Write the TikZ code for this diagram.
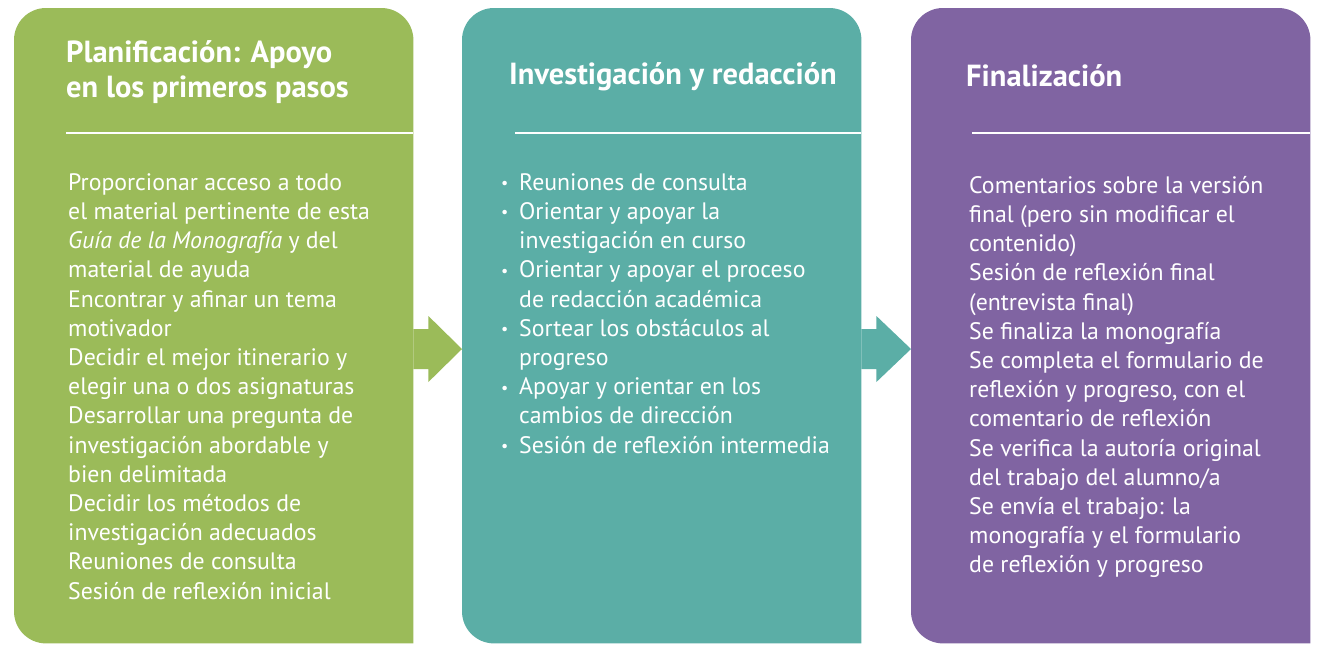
\documentclass[tikz,border=0pt]{standalone}
\usepackage{fontspec}
\setmainfont{PT Sans}
\usetikzlibrary{calc}
\definecolor{leaf}{HTML}{9BBB59}
\definecolor{lagoon}{HTML}{5BAEA6}
\definecolor{plum}{HTML}{8064A2}
\newcommand\itm{\makebox[19pt][l]{\hspace*{1pt}\raisebox{1.5pt}{\fontsize{16}{16}\selectfont\textbullet}}}
\newcommand\cnt{\makebox[19pt]{}}

\begin{document}
\begin{tikzpicture}[x=1pt,y=-1pt,
    panel/.style={minimum width=399pt,minimum height=635pt,inner sep=0pt,anchor=north west},
    title/.style={text=white,font=\fontsize{30.5}{35}\selectfont\bfseries,align=left,anchor=north west,inner sep=0pt},
    body/.style={text=white,font=\fontsize{23.8}{29.2}\selectfont,align=left,anchor=north west,inner sep=0pt},
    rule/.style={white,line width=2pt}]
  \useasboundingbox (0,0) rectangle (1329,662);
  % three stage panels
  \node[panel] (plan) at (14,8) {};
  \node[panel] (inv) at (462,8) {};
  \node[panel] (fin) at (911,8) {};
  \foreach \p/\c in {plan/leaf,inv/lagoon,fin/plum}{
    \fill[\c,rounded corners=32pt] (\p.south east) -- (\p.south west) -- (\p.north west)
      -- (\p.north east) -- (\p.south east);}
  % block arrows between panels
  \foreach \a/\b/\c in {plan/inv/leaf,inv/fin/lagoon}{
    \fill[\c] ($(\a.east |- 0,349)+(0,-20)$) -- ++(15,0) -- ++(0,-13) -- (\b.west |- 0,349)
      -- ($(\a.east |- 0,349)+(15,33)$) -- ++(0,-13) -- ($(\a.east |- 0,349)+(0,20)$) -- cycle;}
  % headings
  \node[title] (plan-t) at (66,37.5) {\strut Planificación: Apoyo\\en los primeros pasos};
  \node[title] (inv-t) at (509,59.5) {\strut Investigación y redacción};
  \node[title] (fin-t) at (966,61.5) {\strut Finalización};
  \draw[rule] (66,133) -- (plan.east |- 0,133);
  \draw[rule] (515,133) -- (inv.east |- 0,133);
  \draw[rule] (972,133) -- (fin.east |- 0,133);
  % lists
  \node[body] (plan-b) at (68,169.6) {\strut Proporcionar acceso a todo\\
    el material pertinente de esta\\
    \textit{Guía de la Monografía} y del\\
    material de ayuda\\
    Encontrar y afinar un tema\\
    motivador\\
    Decidir el mejor itinerario y\\
    elegir una o dos asignaturas\\
    Desarrollar una pregunta de\\
    investigación abordable y\\
    bien delimitada\\
    Decidir los métodos de\\
    investigación adecuados\\
    Reuniones de consulta\\
    Sesión de reflexión inicial};
  \node[body] (inv-b) at (500,169.6) {\strut\itm Reuniones de consulta\\
    \itm Orientar y apoyar la\\
    \cnt investigación en curso\\
    \itm Orientar y apoyar el proceso\\
    \cnt de redacción académica\\
    \itm Sortear los obstáculos al\\
    \cnt progreso\\
    \itm Apoyar y orientar en los\\
    \cnt cambios de dirección\\
    \itm Sesión de reflexión intermedia};
  \node[body] (fin-b) at (969,172.6) {\strut Comentarios sobre la versión\\
    final (pero sin modificar el\\
    contenido)\\
    Sesión de reflexión final\\
    (entrevista final)\\
    Se finaliza la monografía\\
    Se completa el formulario de\\
    reflexión y progreso, con el\\
    comentario de reflexión\\
    Se verifica la autoría original\\
    del trabajo del alumno/a\\
    Se envía el trabajo: la\\
    monografía y el formulario\\
    de reflexión y progreso};
\end{tikzpicture}
\end{document}
